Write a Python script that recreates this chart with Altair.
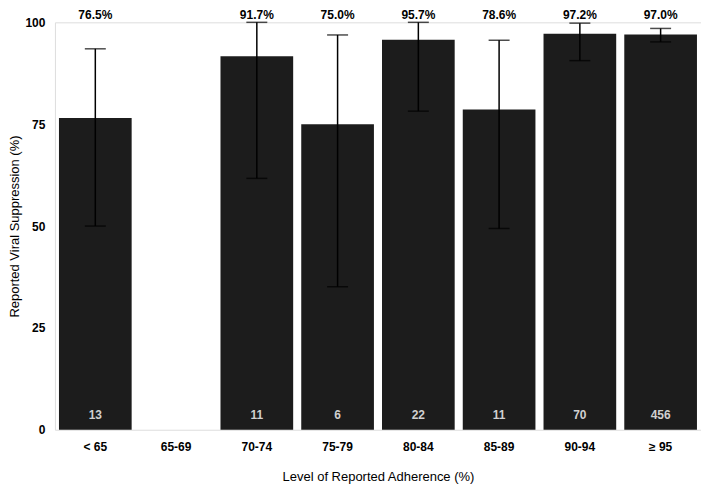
import altair as alt
import pandas as pd

categories = ["< 65", "65-69", "70-74", "75-79", "80-84", "85-89", "90-94", "≥ 95"]
bar_cats = ["< 65", "70-74", "75-79", "80-84", "85-89", "90-94", "≥ 95"]
pct = [76.5, 91.7, 75.0, 95.7, 78.6, 97.2, 97.0]
lower = [50.0, 61.7, 35.1, 78.2, 49.4, 90.6, 95.2]
upper = [93.5, 100.0, 96.9, 100.0, 95.6, 99.8, 98.5]
counts = [13, 11, 6, 22, 11, 70, 456]

df = pd.DataFrame({
    "cat": bar_cats,
    "pct": pct,
    "lo": lower,
    "hi": upper,
    "n": counts,
})
df["pct_label"] = df["pct"].map(lambda v: f"{v:.1f}%")

FONT = "Liberation Sans"
H = 408

x = alt.X(
    "cat:N",
    scale=alt.Scale(domain=categories, paddingInner=0.1, paddingOuter=0.05),
    axis=alt.Axis(
        title="Level of Reported Adherence (%)",
        labelAngle=0,
        ticks=False,
        domain=False,
        labelPadding=12,
        titleY=47,
        titleBaseline="middle",
        labelFontWeight="bold",
        labelFontSize=12,
        titleFontSize=13,
        titleFontWeight="normal",
        labelColor="#000",
        titleColor="#000",
        labelFont=FONT,
        titleFont=FONT,
    ),
)
yscale = alt.Scale(domain=[0, 100], nice=False)
yaxis = alt.Axis(
    title="Reported Viral Suppression (%)",
    values=[0, 25, 50, 75, 100],
    ticks=False,
    domain=False,
    grid=False,
    labelPadding=10,
    titleX=-40,
    titleBaseline="middle",
    labelFontWeight="bold",
    labelFontSize=12,
    titleFontSize=13,
    titleFontWeight="normal",
    labelColor="#000",
    titleColor="#000",
    labelFont=FONT,
    titleFont=FONT,
)

base = alt.Chart(df)

bars = base.mark_bar(color="#1c1c1c").encode(
    x=x,
    y=alt.Y("pct:Q", scale=yscale, axis=yaxis),
)

rules = base.mark_rule(color="#000", strokeWidth=1.5).encode(
    x=x,
    y=alt.Y("lo:Q", scale=yscale),
    y2="hi:Q",
)

cap_hi = base.mark_tick(color="#000", thickness=1.5, size=21, orient="horizontal").encode(
    x=x, y=alt.Y("hi:Q", scale=yscale)
)
cap_lo = base.mark_tick(color="#000", thickness=1.5, size=21, orient="horizontal").encode(
    x=x, y=alt.Y("lo:Q", scale=yscale)
)

pct_text = base.mark_text(
    font=FONT, fontSize=12, fontWeight="bold", color="#000", baseline="middle"
).encode(x=x, y=alt.value(-7), text="pct_label:N")

n_text = base.mark_text(
    font=FONT, fontSize=12, fontWeight="bold", color="#d0d0d0", baseline="middle"
).encode(x=x, y=alt.value(H - 15), text="n:N")

chart = (
    alt.layer(bars, rules, cap_hi, cap_lo, pct_text, n_text)
    .properties(
        width=647,
        height=H,
        autosize=alt.AutoSizeParams(type="none"),
        padding={"left": 47, "top": 14, "right": 0, "bottom": 60},
    )
    .configure_view(stroke=None)
    .configure(background="white")
)

chart.save("out.html", embed_options={"renderer": "svg", "actions": False})
